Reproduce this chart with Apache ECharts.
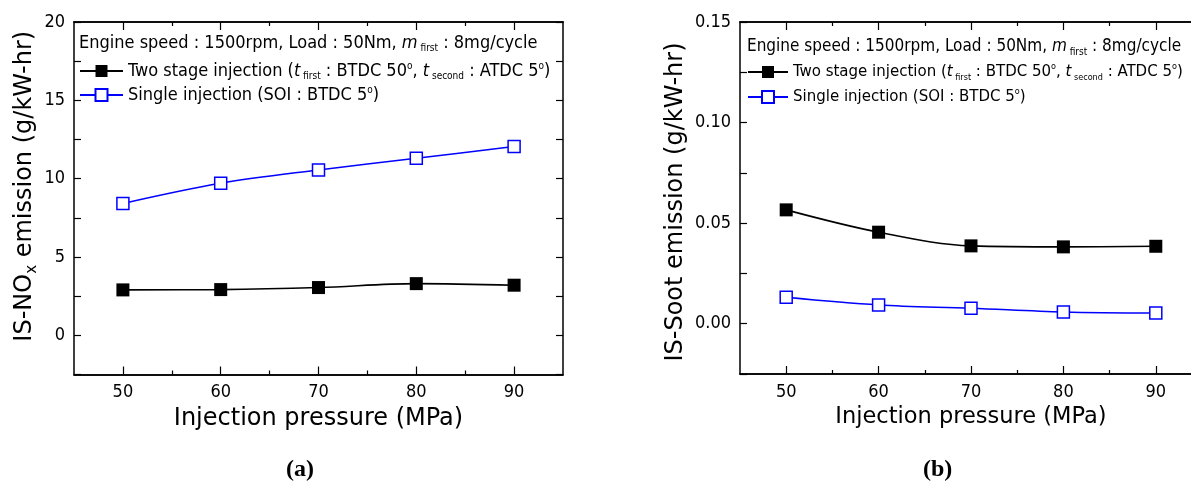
<!DOCTYPE html>
<html><head><meta charset="utf-8">
<script src="https://cdn.jsdelivr.net/npm/echarts@6/dist/echarts.min.js"></script>
<style>html,body{margin:0;padding:0;background:#fff}#c{width:1191px;height:486px}</style>
</head><body><div id="c"></div>
<script>
// ---- data ----
const pressure = [50, 60, 70, 80, 90];
const noxTwoStage = [2.9, 2.92, 3.05, 3.3, 3.2];
const noxSingle = [8.42, 9.71, 10.56, 11.3, 12.05];
const sootTwoStage = [0.0566, 0.0455, 0.0387, 0.0382, 0.0385];
const sootSingle = [0.0131, 0.0093, 0.0077, 0.0058, 0.0053];
const xMajorTicks = [50, 60, 70, 80, 90];
const xMinorTicks = [55, 65, 75, 85];
const noxTickLabels = [0, 5, 10, 15, 20];
const sootTickLabels = [0, 0.05, 0.10, 0.15];
const seriesNames = ['Two stage injection', 'Single injection'];

const FONT = "'DejaVu Sans Condensed', 'DejaVu Sans', sans-serif";
const TFONT = "'DejaVu Sans', sans-serif";
const chart = echarts.init(document.getElementById('c'), null, {renderer: 'canvas'});

const lineW = 1.5;
function xAx(grid, pos, ticks, len, showLabel, name, fs) {
  return {
    type: 'value', gridIndex: grid, position: pos, min: 45, max: 95, interval: 5,
    axisLine: {show: true, onZero: false, lineStyle: {color: '#000', width: lineW}},
    axisTick: {show: true, inside: true, length: len, customValues: ticks, lineStyle: {color: '#000', width: 1.2}},
    axisLabel: showLabel ? {show: true, customValues: xMajorTicks, color: '#000', fontFamily: FONT, fontSize: 18, margin: 9} : {show: false},
    splitLine: {show: false},
    name: name || '', nameLocation: 'middle', nameGap: 32,
    nameTextStyle: {color: '#000', fontFamily: TFONT, fontSize: fs || 24}
  };
}
function yAx(grid, pos, min, max, interval, labels, fmt, showLabel, name, nameGap, fs, pad) {
  fs = fs || 24;
  return {
    type: 'value', gridIndex: grid, position: pos, min: min, max: max, interval: interval,
    axisLine: {show: true, onZero: false, lineStyle: {color: '#000', width: lineW}},
    axisTick: {show: true, inside: true, length: 7, lineStyle: {color: '#000', width: 1.2}},
    axisLabel: showLabel ? {show: true, customValues: labels, formatter: fmt, color: '#000', fontFamily: FONT, fontSize: 18, margin: 9} : {show: false},
    splitLine: {show: false},
    name: name || '', nameLocation: 'middle', nameGap: nameGap || 0, nameRotate: 90,
    nameTextStyle: {
      color: '#000', fontFamily: TFONT, fontSize: fs, lineHeight: 30, padding: pad || 0,
      rich: {
        n: {fontFamily: TFONT, fontSize: fs, color: '#000', lineHeight: 30},
        sub: {fontFamily: TFONT, fontSize: 15, color: '#000', verticalAlign: 'bottom', lineHeight: 30}
      }
    }
  };
}

function pairs(vals) { return pressure.map((p, i) => [p, vals[i]]); }

const blackSeries = (xi, yi, vals) => ({
  name: seriesNames[0], type: 'line', xAxisIndex: xi, yAxisIndex: yi, data: pairs(vals),
  smooth: 0.35, symbol: 'rect', symbolSize: 13,
  lineStyle: {color: '#000', width: 1.6}, itemStyle: {color: '#000'}, z: 3
});
const blueSeries = (xi, yi, vals) => ({
  name: seriesNames[1], type: 'line', xAxisIndex: xi, yAxisIndex: yi, data: pairs(vals),
  smooth: 0.35, symbol: 'rect', symbolSize: 12,
  lineStyle: {color: '#0000ff', width: 1.5},
  itemStyle: {color: '#ffffff', borderColor: '#0000ff', borderWidth: 1.5}, z: 3
});

function legendRich(fs) {
  return {
    i: {fontFamily: FONT, fontSize: fs, fontStyle: 'italic', color: '#000', lineHeight: 20},
    s: {fontFamily: FONT, fontSize: Math.round(fs * 0.56), color: '#000', verticalAlign: 'bottom', lineHeight: 20},
    o: {fontFamily: FONT, fontSize: Math.round(fs * 0.56), color: '#000', verticalAlign: 'top', lineHeight: 20}
  };
}
function legendFmt(name) {
  if (name === seriesNames[0]) return 'Two stage injection ({i|t}{s| first} : BTDC 50{o|o}, {i|t}{s| second} : ATDC 5{o|o})';
  return 'Single injection (SOI : BTDC 5{o|o})';
}
function legendAt(left, top, fs, gap, w) {
  return {
    left: left, top: top, orient: 'vertical', itemWidth: w, itemHeight: 15, itemGap: gap, padding: 0,
    data: seriesNames, formatter: legendFmt, selectedMode: false,
    textStyle: {fontFamily: FONT, fontSize: fs, color: '#000', lineHeight: 20, rich: legendRich(fs)}
  };
}
function headerText(x, y, fs) {
  return {
    type: 'text', left: x, top: y,
    style: {
      text: 'Engine speed : 1500rpm, Load : 50Nm, {i|m}{s| first} : 8mg/cycle',
      fontFamily: FONT, fontSize: fs, fill: '#000', lineHeight: 20,
      rich: legendRich(fs)
    }
  };
}

chart.setOption({
  animation: false,
  backgroundColor: '#fff',
  grid: [
    {left: 74, top: 22, width: 489, height: 352.5, outerBoundsMode: 'none', containLabel: false},
    {left: 740, top: 22, width: 462, height: 352, outerBoundsMode: 'none', containLabel: false}
  ],
  xAxis: [
    xAx(0, 'bottom', xMajorTicks, 8, true, 'Injection pressure (MPa)', 24),
    xAx(0, 'bottom', xMinorTicks, 4, false),
    xAx(0, 'top', xMajorTicks, 8, false),
    xAx(0, 'top', xMinorTicks, 4, false),
    xAx(1, 'bottom', xMajorTicks, 8, true, 'Injection pressure (MPa)', 22.5),
    xAx(1, 'bottom', xMinorTicks, 4, false),
    xAx(1, 'top', xMajorTicks, 8, false),
    xAx(1, 'top', xMinorTicks, 4, false)
  ],
  yAxis: [
    yAx(0, 'left', -2.5, 20, 2.5, noxTickLabels, v => String(v), true, '{n|IS-NO}{sub|x}{n| emission (g/kW-hr)}', 34, 24, [0, 0, 0, 24]),
    yAx(0, 'right', -2.5, 20, 2.5, null, null, false),
    yAx(1, 'left', -0.025, 0.15, 0.025, sootTickLabels, v => v.toFixed(2), true, '{n|IS-Soot emission (g/kW-hr)}', 45, 24, [0, 8, 0, 0]),
    yAx(1, 'right', -0.025, 0.15, 0.025, null, null, false)
  ],
  legend: [legendAt(79, 61, 18, 4, 43), legendAt(747, 62, 16.7, 5, 40)],
  series: [
    blackSeries(0, 0, noxTwoStage),
    blueSeries(0, 0, noxSingle),
    blackSeries(4, 2, sootTwoStage),
    blueSeries(4, 2, sootSingle)
  ],
  graphic: [
    headerText(79, 33, 18),
    headerText(747, 37, 17),
    {type: 'text', left: 286, top: 458, style: {text: '(a)', fontFamily: "'Liberation Serif', serif", fontWeight: 'bold', fontSize: 24, fill: '#000'}},
    {type: 'text', left: 923, top: 458, style: {text: '(b)', fontFamily: "'Liberation Serif', serif", fontWeight: 'bold', fontSize: 24, fill: '#000'}}
  ]
});
</script>
</body></html>
